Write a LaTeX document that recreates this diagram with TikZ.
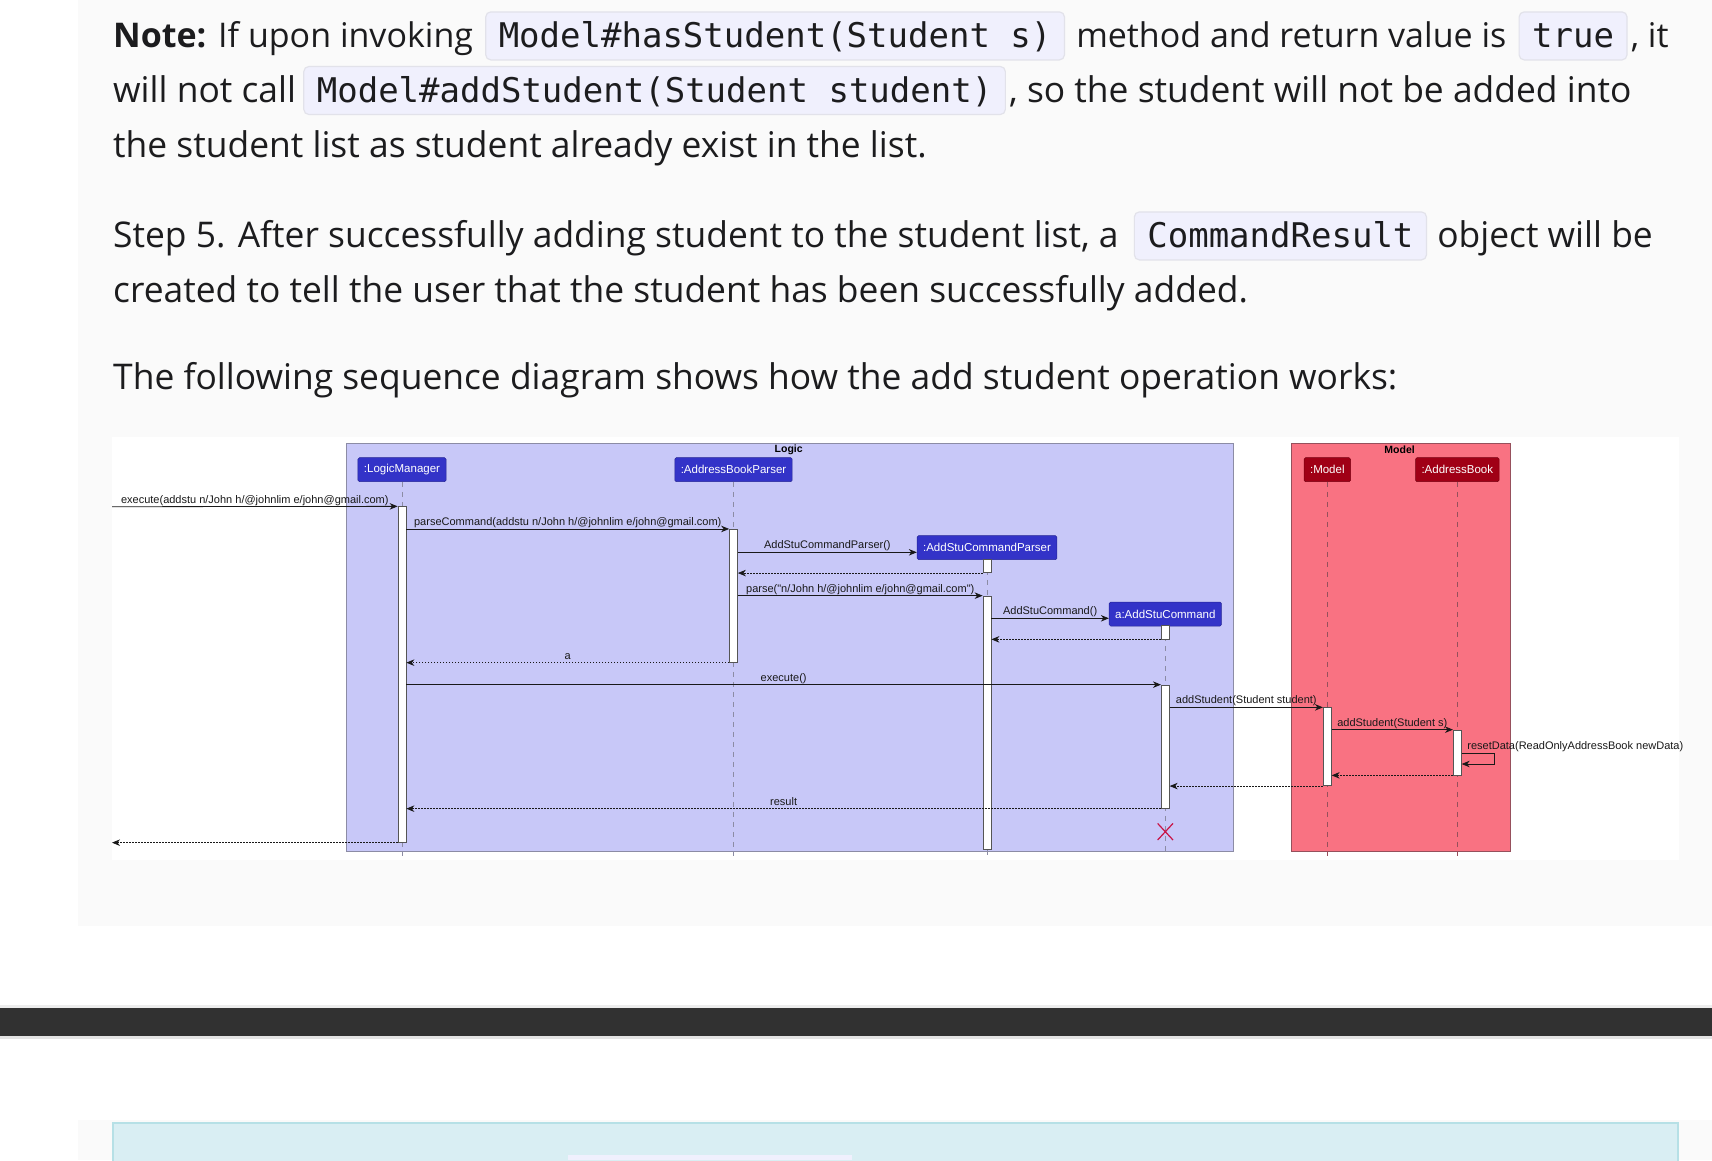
\documentclass[tikz,border=0pt]{standalone}
\usepackage{fontspec}
\setmainfont{Open Sans}
\setmonofont{DejaVu Sans Mono}
\newfontfamily\diagfont{Liberation Sans}
\usepackage{xcolor}
\definecolor{inktext}{RGB}{28,28,30}
\definecolor{codefill}{RGB}{240,240,253}
\definecolor{codeline}{RGB}{226,226,234}
\definecolor{panelgrey}{RGB}{250,250,250}
\definecolor{logicfill}{RGB}{200,200,248}
\definecolor{logicline}{RGB}{140,140,165}
\definecolor{modelfill}{RGB}{249,114,130}
\definecolor{modelline}{RGB}{150,80,92}
\definecolor{partblue}{RGB}{51,51,200}
\definecolor{partred}{RGB}{160,0,22}
\definecolor{barline}{RGB}{85,85,85}
\definecolor{killred}{RGB}{200,20,70}
\definecolor{navbar}{RGB}{49,49,49}
\definecolor{tipfill}{RGB}{217,238,243}
\definecolor{tipline}{RGB}{182,224,230}
\usetikzlibrary{arrows.meta,positioning}

\tikzset{
  body/.style={inner sep=0pt, anchor=base west, text=inktext, font=\fontsize{35.4}{40}\selectfont},
  notebody/.style={body, font=\fontsize{34}{40}\selectfont},
  codebox/.style={anchor=base west, draw=codeline, line width=1.2pt, fill=codefill,
    rounded corners=5pt, inner xsep=13pt, inner ysep=0pt, text height=36pt, text depth=12pt,
    text=inktext, font=\ttfamily\fontsize{34}{40}\selectfont},
  part/.style={fill=partblue, draw=partblue!75!black, line width=0.5pt, text=white,
    rounded corners=1.5pt, inner xsep=6pt, inner ysep=0pt, minimum height=24pt,
    font=\diagfont\fontsize{11.5}{12}\selectfont},
  mpart/.style={part, fill=partred, draw=partred!75!black},
  grouptitle/.style={inner sep=0pt, font=\diagfont\bfseries\fontsize{10.5}{11}\selectfont},
  lifeline/.style={draw=logicline, line width=0.6pt, dash pattern=on 5pt off 5pt},
  actbar/.style={draw=barline, fill=white, line width=0.7pt, minimum width=8pt, inner sep=0pt},
  msg/.style={draw=black!90, line width=0.8pt, -{Stealth[length=8pt,width=6.5pt,inset=2.5pt]}},
  ret/.style={msg, dash pattern=on 1.5pt off 1.5pt},
  lbl/.style={inner sep=0pt, text=black!90, font=\diagfont\fontsize{11}{12}\selectfont},
  msgtext/.style={lbl, midway, anchor=base, yshift=3.5pt}
}

\begin{document}
\begin{tikzpicture}[x=1pt, y=-1pt]
  % page
  \useasboundingbox (0,0) rectangle (1712,1160);
  \fill[white] (0,0) rectangle (1712,1160);
  \fill[panelgrey] (78,0) rectangle (1712,926);
  \fill[panelgrey] (78,1120) rectangle (1712,1160);
  \fill[black!7] (0,1005) rectangle (1712,1008.3);
  \fill[navbar] (0,1008.3) rectangle (1712,1035.7);
  \fill[black!11] (0,1035.7) rectangle (1712,1039.3);
  \filldraw[fill=tipfill, draw=tipline, line width=2pt] (113,1163) -- (113,1122.7) -- (1678,1122.7) -- (1678,1163);
  \fill[codefill] (568,1155) rectangle (852,1160);

  % text above the diagram
  \node[notebody] (note1) at (113,47.9) {\textbf{Note:} If upon invoking};
  \node[codebox] (code1) at ([xshift=12pt]note1.base east) {Model\#hasStudent(Student s)};
  \node[notebody] (note1b) at ([xshift=11pt]code1.base east) {method and return value is};
  \node[codebox] (code2) at ([xshift=12pt]note1b.base east) {true};
  \node[notebody] (note1c) at ([xshift=3pt]code2.base east) {, it};
  \node[body] (note2) at (113,102.5) {will not call};
  \node[codebox] (code3) at ([xshift=7pt]note2.base east) {Model\#addStudent(Student student)};
  \node[body] (note2b) at ([xshift=3pt]code3.base east) {, so the student will not be added into};
  \node[body] (note3) at (113,157.1) {the student list as student already exist in the list.};
  \node[body] (step1) at (113,247.9) {Step 5. After successfully adding student to the student list, a};
  \node[codebox] (code4) at ([xshift=15pt]step1.base east) {CommandResult};
  \node[body] (step1b) at ([xshift=10pt]code4.base east) {object will be};
  \node[body] (step2) at (113,302.5) {created to tell the user that the student has been successfully added.};
  \node[body] (intro) at (113,389.8) {The following sequence diagram shows how the add student operation works:};

  % sequence diagram
  \fill[white] (112,437) rectangle (1679,860);
  \draw[fill=logicfill, draw=logicline, line width=0.8pt] (346.7,443.3) rectangle (1233.8,851);
  \node[grouptitle] (logicT) at (788.7,449.3) {Logic};
  \draw[fill=modelfill, draw=modelline, line width=0.8pt] (1291.2,443.3) rectangle (1510.5,851);
  \node[grouptitle] (modelT) at (1399.6,449.3) {Model};

  \node[part] (lm) at (402,469.7) {:LogicManager};
  \node[part] (abp) at (733.5,469.7) {:AddressBookParser};
  \node[part] (ascp) at (987,547.7) {:AddStuCommandParser};
  \node[part] (asc) at (1165.3,614) {a:AddStuCommand};
  \node[mpart] (mdl) at (1327.3,469.7) {:Model};
  \node[mpart] (ab) at (1457.3,469.7) {:AddressBook};

  \foreach \p in {lm,abp,ascp,asc}
    \draw[lifeline] (\p.south) -- (\p.south |- 0,856);
  \foreach \p in {mdl,ab}
    \draw[lifeline, draw=modelline] (\p.south) -- (\p.south |- 0,856);

  \node[actbar, minimum height=335.6pt] (lmA) at (lm |- 0,674.5) {};
  \node[actbar, minimum height=133pt] (abpA) at (abp |- 0,595.8) {};
  \node[actbar, minimum height=13.4pt] (ascpA) at (ascp |- 0,566) {};
  \node[actbar, minimum height=253.3pt] (ascpB) at (ascp |- 0,722.65) {};
  \node[actbar, minimum height=13.3pt] (ascA) at (asc |- 0,632.35) {};
  \node[actbar, minimum height=123.3pt] (ascB) at (asc |- 0,746.65) {};
  \node[actbar, minimum height=78pt] (mdlA) at (mdl |- 0,746.7) {};
  \node[actbar, minimum height=45pt] (abA) at (ab |- 0,752.5) {};

  \coordinate (ext) at (112,506.7);
  \draw[msg] (ext) -- (lmA.north west) node[msgtext] {execute(addstu n/John h/@johnlim e/john@gmail.com)};
  \draw[msg] (lmA.east |- abpA.north) -- (abpA.north west) node[msgtext] {parseCommand(addstu n/John h/@johnlim e/john@gmail.com)};
  \draw[msg] (abpA.east |- 0,552.3) -- (ascp.west |- 0,552.3) node[msgtext] {AddStuCommandParser()};
  \draw[ret] (ascpA.south west) -- (abpA.east |- ascpA.south);
  \draw[msg] (abpA.east |- ascpB.north) -- (ascpB.north west) node[msgtext] {parse("n/John h/@johnlim e/john@gmail.com")};
  \draw[msg] (ascpB.east |- 0,618.3) -- (asc.west |- 0,618.3) node[msgtext] {AddStuCommand()};
  \draw[ret] (ascA.south west) -- (ascpB.east |- ascA.south);
  \draw[ret] (abpA.south west) -- (lmA.east |- abpA.south) node[msgtext] {a};
  \draw[msg] (lmA.east |- ascB.north) -- (ascB.north west) node[msgtext] {execute()};
  \draw[msg] (ascB.east |- mdlA.north) -- (mdlA.north west) node[msgtext] {addStudent(Student student)};
  \draw[msg] (mdlA.east |- abA.north) -- (abA.north west) node[msgtext] {addStudent(Student s)};
  \draw[msg] (abA.east |- 0,753.3) -- ++(32.7,0) -- ++(0,10.7) -- (abA.east |- 0,764);
  \node[lbl, anchor=base west] (resetL) at (1467.2,749.3) {resetData(ReadOnlyAddressBook newData)};
  \draw[ret] (abA.south west) -- (mdlA.east |- abA.south);
  \draw[ret] (mdlA.south west) -- (ascB.east |- mdlA.south);
  \draw[ret] (ascB.south west) -- (lmA.east |- ascB.south) node[msgtext] {result};
  \draw[ret] (lmA.south west) -- (ext |- lmA.south);

  % destroyed command object
  \coordinate (kill) at (asc |- 0,831.7);
  \draw[killred, line width=1.2pt] ([shift={(-7.7,-8.3)}]kill) -- ([shift={(7.7,8.3)}]kill)
    ([shift={(-7.7,8.3)}]kill) -- ([shift={(7.7,-8.3)}]kill);
\end{tikzpicture}
\end{document}
